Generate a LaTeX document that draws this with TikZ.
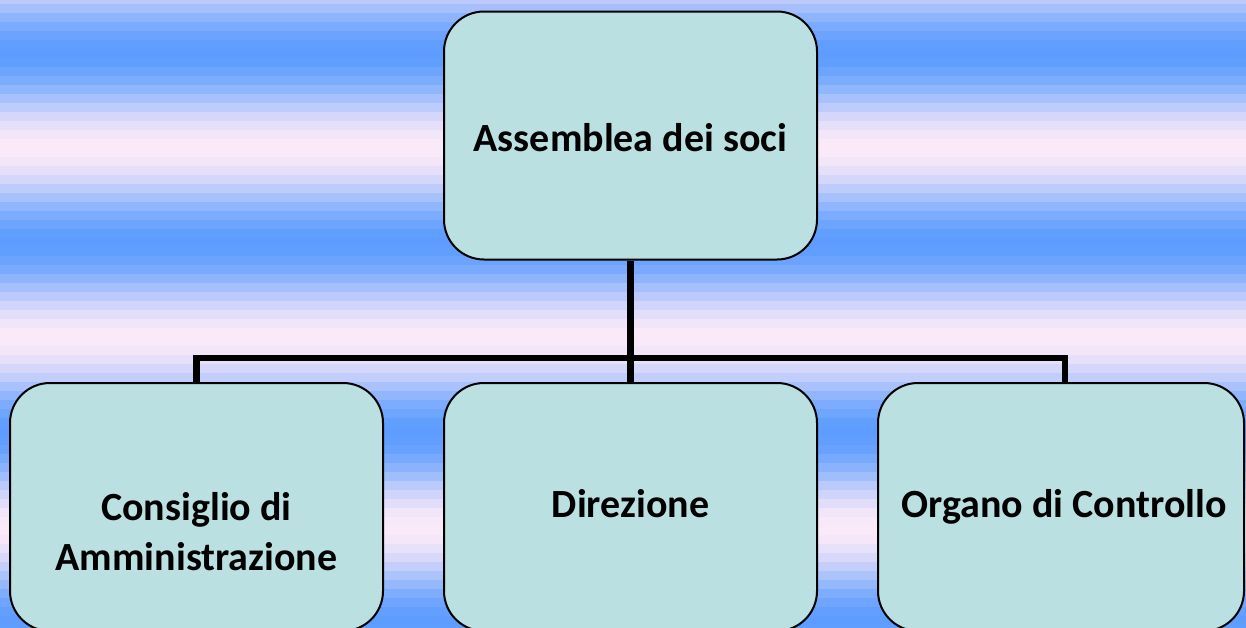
\documentclass[tikz,border=0pt]{standalone}
\usepackage{fontspec}
\setmainfont{Carlito}
\definecolor{bluec}{RGB}{94,157,255}
\definecolor{pinkc}{RGB}{251,234,249}
\definecolor{boxfill}{RGB}{186,224,226}
\tikzset{
  orgbox/.style={draw=black, line width=2pt, fill=boxfill, rounded corners=40pt, inner sep=0pt},
  orgtext/.style={font=\fontsize{40}{50}\selectfont\bfseries, align=center, inner sep=0pt},
  conn/.style={draw=black, line width=6.5pt, line cap=butt, line join=miter}
}
\begin{document}
\begin{tikzpicture}[x=1pt,y=-1pt]
\useasboundingbox (0,0) rectangle (1246,627);
\begin{scope}
\clip (0,0) rectangle (1246,627);
\foreach \k in {0,...,70}{
  \pgfmathsetmacro{\ang}{1.8947*(9*\k-0.5-53)}
  \pgfmathtruncatemacro{\p}{50*(1-cos(\ang))}
  \fill[pinkc!\p!bluec] (0,{9*\k-5}) rectangle (1246,{9*\k+4});
}
\end{scope}
\coordinate (j) at (630.5,358);
\node[orgbox, minimum width=373pt, minimum height=248pt] (a) at (630.5,135.5) {};
\node[orgbox, minimum width=373pt, minimum height=248pt] (b1) at (196.5,507) {};
\node[orgbox, minimum width=373pt, minimum height=248pt] (b2) at (630.5,507) {};
\node[orgbox, minimum width=366pt, minimum height=248pt] (b3) at (1061,507) {};
\coordinate (b3top) at ([xshift=4pt]b3.north);
\draw[conn] (a.south) -- (b2.north);
\draw[conn] (b1.north) -- (b1.north |- j) -- (b3top |- j) -- (b3top);
\node[orgtext, anchor=base] (ta) at (630.5,151) {Assemblea dei soci};
\node[orgtext, anchor=base] (t1) at (196.5,570) {Consiglio di\\Amministrazione};
\node[orgtext, anchor=base] (t2) at (630.5,517) {Direzione};
\node[orgtext, anchor=base] (t3) at (1064,517) {Organo di Controllo};
\end{tikzpicture}
\end{document}
